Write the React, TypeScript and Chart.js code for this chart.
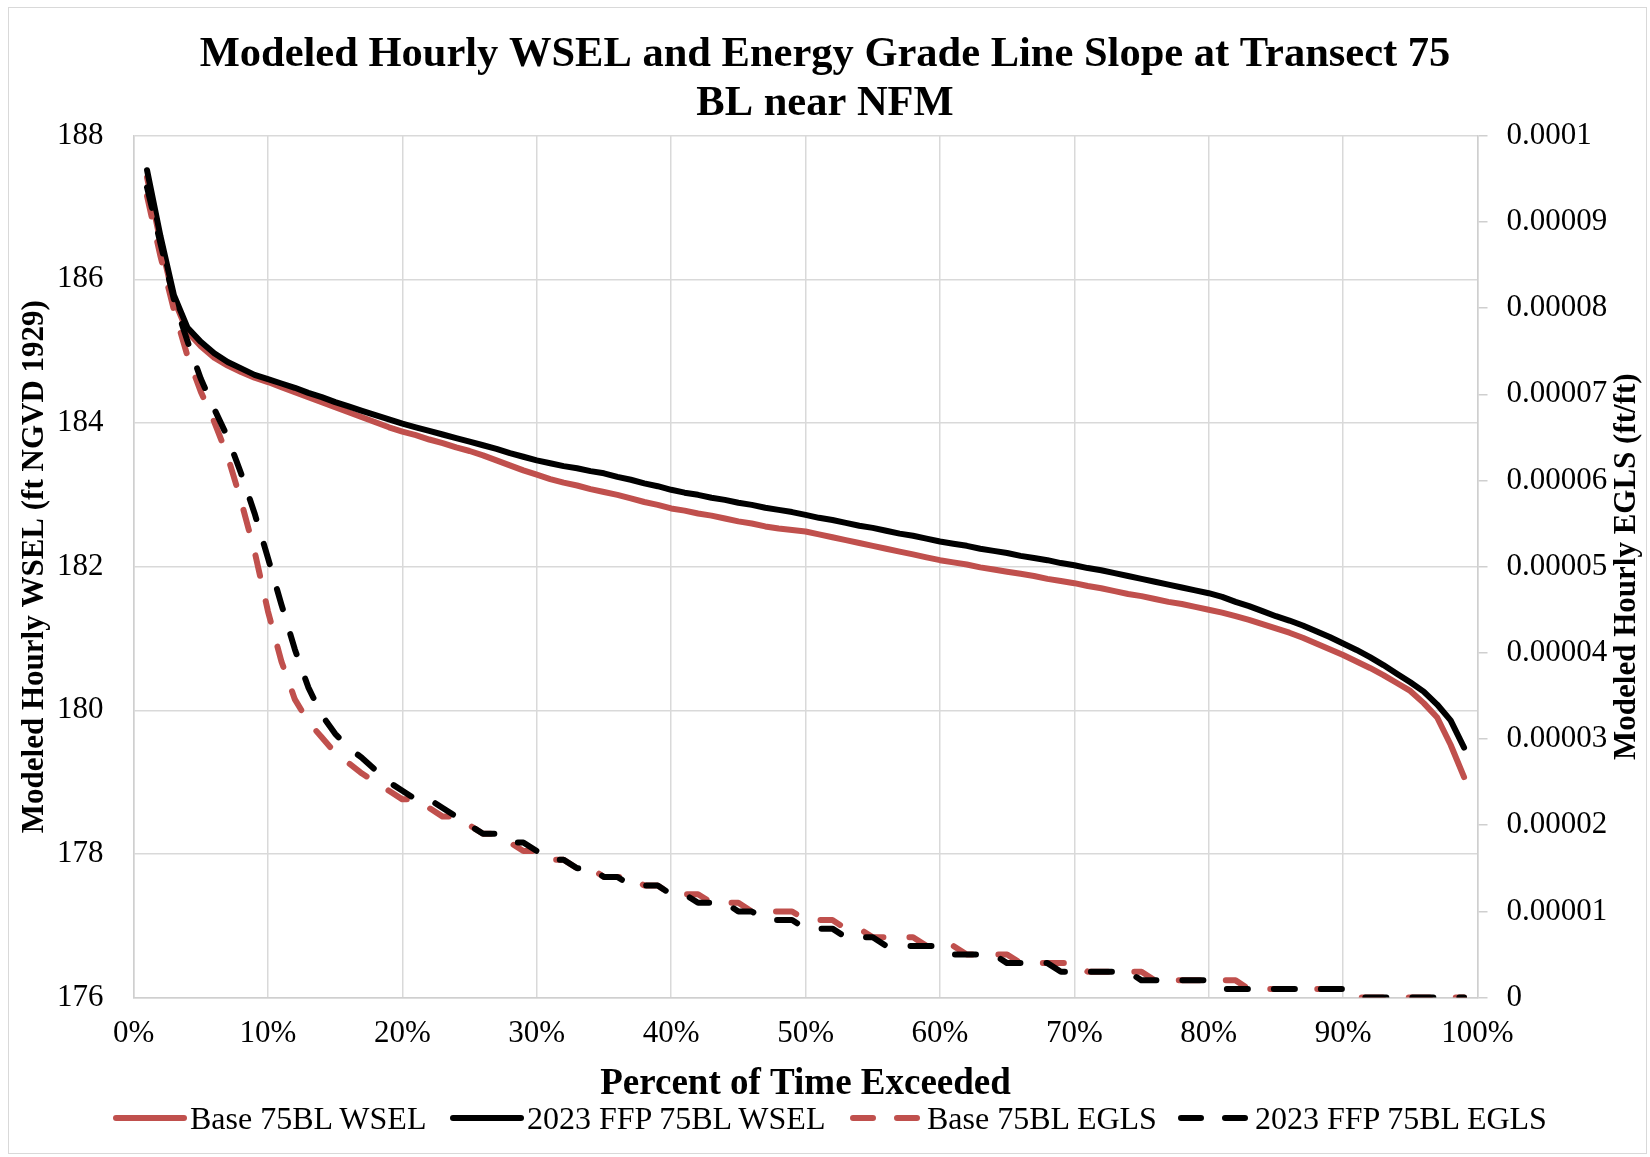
import React, { useEffect, useRef } from 'react';
import { Chart, registerables } from 'chart.js';

Chart.register(...registerables);

// ---------------- data ----------------
const PCT_EXCEEDED = [
  1, 2, 3, 4, 5, 6, 7, 8, 9, 10,
  11, 12, 13, 14, 15, 16, 17, 18, 19, 20,
  21, 22, 23, 24, 25, 26, 27, 28, 29, 30,
  31, 32, 33, 34, 35, 36, 37, 38, 39, 40,
  41, 42, 43, 44, 45, 46, 47, 48, 49, 50,
  51, 52, 53, 54, 55, 56, 57, 58, 59, 60,
  61, 62, 63, 64, 65, 66, 67, 68, 69, 70,
  71, 72, 73, 74, 75, 76, 77, 78, 79, 80,
  81, 82, 83, 84, 85, 86, 87, 88, 89, 90,
  91, 92, 93, 94, 95, 96, 97, 98, 99,
];

const BASE_WSEL = [
  187.42, 186.52, 185.72, 185.27, 185.07, 184.91, 184.80, 184.71, 184.63, 184.57,
  184.50, 184.43, 184.36, 184.29, 184.22, 184.15, 184.08, 184.01, 183.94, 183.88,
  183.83, 183.77, 183.72, 183.66, 183.61, 183.55, 183.48, 183.41, 183.34, 183.28,
  183.22, 183.17, 183.13, 183.08, 183.04, 183.00, 182.95, 182.90, 182.86, 182.81,
  182.78, 182.74, 182.71, 182.67, 182.63, 182.60, 182.56, 182.53, 182.51, 182.49,
  182.45, 182.41, 182.37, 182.33, 182.29, 182.25, 182.21, 182.17, 182.13, 182.09,
  182.06, 182.03, 181.99, 181.96, 181.93, 181.90, 181.87, 181.83, 181.80, 181.77,
  181.73, 181.70, 181.66, 181.62, 181.59, 181.55, 181.51, 181.48, 181.44, 181.40,
  181.36, 181.31, 181.26, 181.20, 181.14, 181.08, 181.01, 180.93, 180.85, 180.77,
  180.68, 180.59, 180.49, 180.38, 180.27, 180.10, 179.90, 179.52, 179.07,
];

const FFP_WSEL = [
  187.52, 186.60, 185.78, 185.33, 185.13, 184.97, 184.85, 184.76, 184.67, 184.61,
  184.55, 184.49, 184.42, 184.36, 184.29, 184.23, 184.17, 184.11, 184.05, 183.99,
  183.94, 183.89, 183.84, 183.79, 183.74, 183.69, 183.64, 183.58, 183.53, 183.48,
  183.44, 183.40, 183.37, 183.33, 183.30, 183.25, 183.21, 183.16, 183.12, 183.07,
  183.03, 183.00, 182.96, 182.93, 182.89, 182.86, 182.82, 182.79, 182.76, 182.72,
  182.68, 182.65, 182.61, 182.57, 182.54, 182.50, 182.46, 182.43, 182.39, 182.35,
  182.32, 182.29, 182.25, 182.22, 182.19, 182.15, 182.12, 182.09, 182.05, 182.02,
  181.98, 181.95, 181.91, 181.87, 181.83, 181.79, 181.75, 181.71, 181.67, 181.63,
  181.58, 181.51, 181.45, 181.38, 181.31, 181.25, 181.18, 181.10, 181.02, 180.93,
  180.84, 180.74, 180.63, 180.51, 180.39, 180.26, 180.08, 179.86, 179.48,
];

const BASE_EGLS = [
  93e-6, 86e-6, 79.8e-6, 74.5e-6, 70.3e-6, 66.8e-6, 62.8e-6, 57.6e-6, 51.8e-6, 44.8e-6,
  39e-6, 34.6e-6, 32e-6, 30.2e-6, 28.4e-6, 27.2e-6, 26e-6, 25e-6, 24e-6, 23e-6,
  23e-6, 22e-6, 21e-6, 21e-6, 20e-6, 19e-6, 19e-6, 18e-6, 17e-6, 17e-6,
  16e-6, 16e-6, 15e-6, 15e-6, 14e-6, 14e-6, 14e-6, 13e-6, 13e-6, 12e-6,
  12e-6, 12e-6, 11e-6, 11e-6, 11e-6, 10e-6, 10e-6, 10e-6, 10e-6, 9e-6,
  9e-6, 9e-6, 8e-6, 8e-6, 7e-6, 7e-6, 7e-6, 7e-6, 6e-6, 6e-6,
  6e-6, 5e-6, 5e-6, 5e-6, 5e-6, 4e-6, 4e-6, 4e-6, 4e-6, 4e-6,
  3e-6, 3e-6, 3e-6, 3e-6, 3e-6, 2e-6, 2e-6, 2e-6, 2e-6, 2e-6,
  2e-6, 2e-6, 1e-6, 1e-6, 1e-6, 1e-6, 1e-6, 1e-6, 1e-6, 1e-6,
  0, 0, 0, 0, 0, 0, 0, 0, 0,
];

const FFP_EGLS = [
  94e-6, 87.5e-6, 81e-6, 76.2e-6, 71.8e-6, 68.3e-6, 65e-6, 60.8e-6, 56.2e-6, 51e-6,
  45.6e-6, 40.4e-6, 36e-6, 32.8e-6, 30.6e-6, 29e-6, 27.8e-6, 26.4e-6, 25e-6, 24e-6,
  23e-6, 23e-6, 22e-6, 21e-6, 20e-6, 19e-6, 19e-6, 18e-6, 18e-6, 17e-6,
  16e-6, 16e-6, 15e-6, 15e-6, 14e-6, 14e-6, 13e-6, 13e-6, 13e-6, 12e-6,
  12e-6, 11e-6, 11e-6, 11e-6, 10e-6, 10e-6, 9e-6, 9e-6, 9e-6, 8e-6,
  8e-6, 8e-6, 7e-6, 7e-6, 7e-6, 6e-6, 6e-6, 6e-6, 6e-6, 6e-6,
  5e-6, 5e-6, 5e-6, 5e-6, 4e-6, 4e-6, 4e-6, 4e-6, 3e-6, 3e-6,
  3e-6, 3e-6, 3e-6, 3e-6, 2e-6, 2e-6, 2e-6, 2e-6, 2e-6, 2e-6,
  1e-6, 1e-6, 1e-6, 1e-6, 1e-6, 1e-6, 1e-6, 1e-6, 1e-6, 1e-6,
  0, 0, 0, 0, 0, 0, 0, 0, 0,
];

const SERIES_LABELS = ['Base 75BL WSEL', '2023 FFP 75BL WSEL', 'Base 75BL EGLS', '2023 FFP 75BL EGLS'];
const TITLE_LINES = ['Modeled Hourly WSEL and Energy Grade Line Slope at Transect 75', 'BL near NFM'];
const X_TITLE = 'Percent of Time Exceeded';
const Y_TITLE = 'Modeled Hourly WSEL (ft NGVD 1929)';
const Y2_TITLE = 'Modeled Hourly EGLS (ft/ft)';

// ---------------- styles ----------------
const FONT = '"Liberation Serif", "Times New Roman", serif';
const RED = '#C0504D';
const BLACK = '#000000';
const GRID = '#d9d9d9';
const AXIS = '#cfcfcf';
const LINE_W = 6;
const DASH = [21, 26];

const W = 1650;
const H = 1157;

const STYLES = [
  { color: RED, dash: [] as number[] },
  { color: BLACK, dash: [] as number[] },
  { color: RED, dash: DASH },
  { color: BLACK, dash: DASH },
];
const LEGEND_X = [113, 450, 850, 1178];
const LEGEND_Y = 1118;

const toPts = (ys: number[]) => PCT_EXCEEDED.map((x, i) => ({ x, y: ys[i] }));

const rightTitlePlugin = {
  id: 'rightTitle',
  afterDraw(chart: any) {
    const { ctx, chartArea } = chart;
    ctx.save();
    ctx.translate(W - 23, (chartArea.top + chartArea.bottom) / 2);
    ctx.rotate(-Math.PI / 2);
    ctx.font = `bold 31px ${FONT}`;
    ctx.fillStyle = '#000';
    ctx.textAlign = 'center';
    ctx.textBaseline = 'middle';
    ctx.fillText(Y2_TITLE, 0, 0);
    ctx.restore();
  },
};

function LegendSample({ color, dash, width }: { color: string; dash: number[]; width: number }) {
  return (
    <svg width={width} height={14} style={{ display: 'block', flex: 'none' }}>
      <line
        x1={3}
        y1={7}
        x2={width - 3}
        y2={7}
        stroke={color}
        strokeWidth={LINE_W}
        strokeLinecap="round"
        strokeDasharray={dash.length ? '20 24' : undefined}
      />
    </svg>
  );
}

export default function App() {
  const ref = useRef<HTMLCanvasElement>(null);

  useEffect(() => {
    if (!ref.current) return;
    const seriesData = [BASE_WSEL, FFP_WSEL, BASE_EGLS, FFP_EGLS];
    const chart = new Chart(ref.current, {
      type: 'line',
      data: {
        datasets: seriesData.map((ys, i) => ({
          label: SERIES_LABELS[i],
          data: toPts(ys),
          yAxisID: i < 2 ? 'y' : 'y1',
          borderColor: STYLES[i].color,
          backgroundColor: STYLES[i].color,
          borderWidth: LINE_W,
          borderDash: STYLES[i].dash,
          borderCapStyle: 'round',
          borderJoinStyle: 'round',
          pointRadius: 0,
          tension: 0,
          fill: false,
          order: 4 - i,
        })),
      },
      options: {
        responsive: false,
        animation: false,
        devicePixelRatio: 1,
        parsing: false as any,
        normalized: true,
        layout: { padding: { left: 0, right: 0, top: 0, bottom: 50.4 } },
        plugins: {
          legend: { display: false },
          tooltip: { enabled: false },
          title: {
            display: true,
            text: TITLE_LINES,
            color: '#000',
            font: { family: FONT, size: 42.5, weight: 'bold', lineHeight: 49 / 42.5 },
            padding: { top: 30.5, bottom: 7.2 },
          },
        },
        scales: {
          x: {
            type: 'linear',
            position: 'bottom',
            min: 0,
            max: 100,
            ticks: {
              stepSize: 10,
              color: '#000',
              font: { family: FONT, size: 31 },
              padding: 17.5,
              callback: (v: any) => `${v}%`,
            },
            grid: { color: GRID, lineWidth: 1.5, drawTicks: false },
            border: { color: AXIS, width: 1.5 },
            title: {
              display: true,
              text: X_TITLE,
              color: '#000',
              font: { family: FONT, size: 37, weight: 'bold', lineHeight: 1.2 },
              padding: 0,
            },
            afterFit: (s: any) => {
              s.height = 109;
            },
          },
          y: {
            type: 'linear',
            position: 'left',
            min: 176,
            max: 188,
            ticks: {
              stepSize: 2,
              color: '#000',
              font: { family: FONT, size: 31 },
              padding: 30,
            },
            grid: { color: GRID, lineWidth: 1.5, drawTicks: false },
            border: { color: AXIS, width: 1.5 },
            title: {
              display: true,
              text: Y_TITLE,
              color: '#000',
              font: { family: FONT, size: 31, weight: 'bold', lineHeight: 1.2 },
              padding: { top: 16, bottom: 0 },
            },
            afterFit: (s: any) => {
              s.width = 133.6;
            },
          },
          y1: {
            type: 'linear',
            position: 'right',
            min: 0,
            max: 0.0001,
            ticks: {
              stepSize: 0.00001,
              color: '#000',
              font: { family: FONT, size: 31 },
              padding: 19,
              callback: (v: any) => String(Number(Number(v).toFixed(6))),
            },
            grid: { drawOnChartArea: false, drawTicks: true, tickLength: 10, color: AXIS, lineWidth: 1.5 },
            border: { color: AXIS, width: 1.5 },
            afterFit: (s: any) => {
              s.width = W - 1477.5;
            },
          },
        },
      } as any,
      plugins: [rightTitlePlugin],
    });
    return () => chart.destroy();
  }, []);

  return (
    <div
      style={{
        position: 'absolute',
        left: 0,
        top: 0,
        width: W,
        height: H,
        background: '#fff',
        overflow: 'hidden',
      }}
    >
      <canvas
        ref={ref}
        width={W}
        height={H}
        style={{ position: 'absolute', left: 0, top: 0, width: W, height: H }}
      />
      <div
        style={{
          position: 'absolute',
          left: 8,
          top: 7,
          width: 1639,
          height: 1147,
          border: '1.5px solid #d9d9d9',
          boxSizing: 'border-box',
          pointerEvents: 'none',
        }}
      />
      {SERIES_LABELS.map((label, i) => (
        <div
          key={label}
          style={{
            position: 'absolute',
            left: LEGEND_X[i],
            top: LEGEND_Y - 20,
            height: 40,
            display: 'flex',
            alignItems: 'center',
            whiteSpace: 'nowrap',
            fontFamily: FONT,
            fontSize: 32,
            lineHeight: '32px',
            color: '#000',
          }}
        >
          <LegendSample color={STYLES[i].color} dash={STYLES[i].dash} width={i < 2 ? 74 : 71} />
          <span style={{ marginLeft: i < 2 ? 3 : 6 }}>{label}</span>
        </div>
      ))}
    </div>
  );
}
